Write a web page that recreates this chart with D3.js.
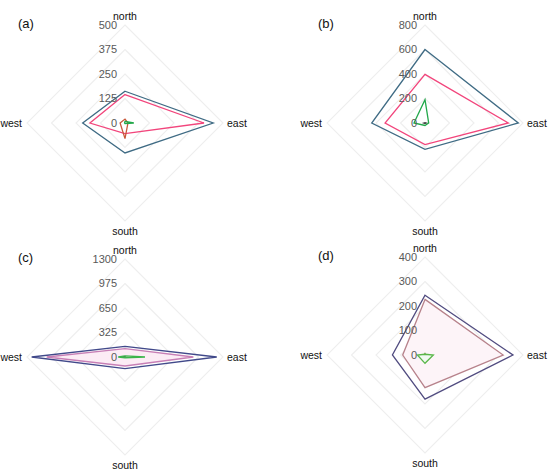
<!DOCTYPE html>
<html><head><meta charset="utf-8">
<script src="https://cdn.jsdelivr.net/npm/d3@7"></script>
<style>body{margin:0;background:#fff}svg{display:block;font-family:"Liberation Sans",Arial,sans-serif}</style>
</head><body><svg id="c" width="550" height="471"></svg>
<script>
const axes = ["north","east","south","west"];
const panelLabels = ["(a)","(b)","(c)","(d)"];
const maxima = [500,800,1300,400];
const ticksA = [0,125,250,375,500];
const ticksB = [0,200,400,600,800];
const ticksC = [0,325,650,975,1300];
const ticksD = [0,100,200,300,400];
// values in axis order north, east, south, west
const a1 = [162,450,153,216], a2 = [145,403,54,179], a3 = [20,15,80,25], a4 = [8,45,3,2];
const b1 = [600,762,215,435], b2 = [397,680,176,326], b3 = [3,10,4,10], b4 = [190,30,20,90];
const c1 = [142,1217,155,1238], c2 = [111,907,119,1039], c3 = [4,3,4,25], c4 = [15,265,10,90];
const d1 = [244,359,180,133], d2 = [227,319,133,91], d3v = [6,4,2,4], d4 = [3,34,34,31];

const panels = [
  {label:panelLabels[0], max:maxima[0], ticks:ticksA, series:[a1,a2,a3,a4],
   colors:["#3f6b84","#f2457c","#c9583a","#22a84a"], fills:[null,null,null,null], cx:125, cy:123},
  {label:panelLabels[1], max:maxima[1], ticks:ticksB, series:[b1,b2,b3,b4],
   colors:["#3f6b84","#f2457c","#4a4a4a","#22a84a"], fills:[null,null,null,null], cx:425, cy:123},
  {label:panelLabels[2], max:maxima[2], ticks:ticksC, series:[c1,c2,c3,c4],
   colors:["#41498a","#c77fb6","#444444","#3cb44b"], fills:[null,"#fcecf5",null,null], cx:125, cy:357},
  {label:panelLabels[3], max:maxima[3], ticks:ticksD, series:[d1,d2,d3v,d4],
   colors:["#514c80","#b7828b","#8a9a5b","#5ab74a"], fills:[null,"#fdf4f8",null,"#f1f9f1"], cx:425, cy:355}
];

const R = 98;
const svg = d3.select("#c");
const angleOf = i => i * Math.PI/2;

panels.forEach(p => {
  const r = d3.scaleLinear().domain([0, p.max]).range([0, R]);
  const g = svg.append("g").attr("transform", `translate(${p.cx},${p.cy})`);
  const radial = d3.lineRadial().angle((d,i)=>angleOf(i)).radius(d=>r(d)).curve(d3.curveLinearClosed);
  // grid
  p.ticks.slice(1).forEach(t => {
    g.append("path").attr("d", radial(axes.map(()=>t)))
      .attr("fill","none").attr("stroke","#eeeeee").attr("stroke-width",1.1);
  });
  // series
  p.series.forEach((vals,k) => {
    g.append("path").attr("d", radial(vals))
      .attr("fill", p.fills[k] || "none")
      .attr("stroke", p.colors[k]).attr("stroke-width",1.3).attr("stroke-linejoin","miter");
  });
  // tick labels
  p.ticks.forEach(t => {
    g.append("text").attr("x",-8).attr("y",-r(t)).attr("dy","0.35em")
      .attr("text-anchor","end").attr("font-size",11).attr("fill","#595959").text(t);
  });
  // axis labels
  const lab = g.append("g").attr("font-size",10.5).attr("fill","#111");
  lab.append("text").attr("x",0).attr("y",-R-5).attr("text-anchor","middle").text(axes[0]);
  lab.append("text").attr("x",R+4).attr("y",0).attr("dy","0.35em").attr("text-anchor","start").text(axes[1]);
  lab.append("text").attr("x",0).attr("y",R+14).attr("text-anchor","middle").text(axes[2]);
  lab.append("text").attr("x",-R-5).attr("y",0).attr("dy","0.35em").attr("text-anchor","end").text(axes[3]);
  // panel label
  g.append("text").attr("x",-107).attr("y",-100).attr("dy","0.35em")
    .attr("font-size",13).attr("fill","#111").text(p.label);
});
</script></body></html>
